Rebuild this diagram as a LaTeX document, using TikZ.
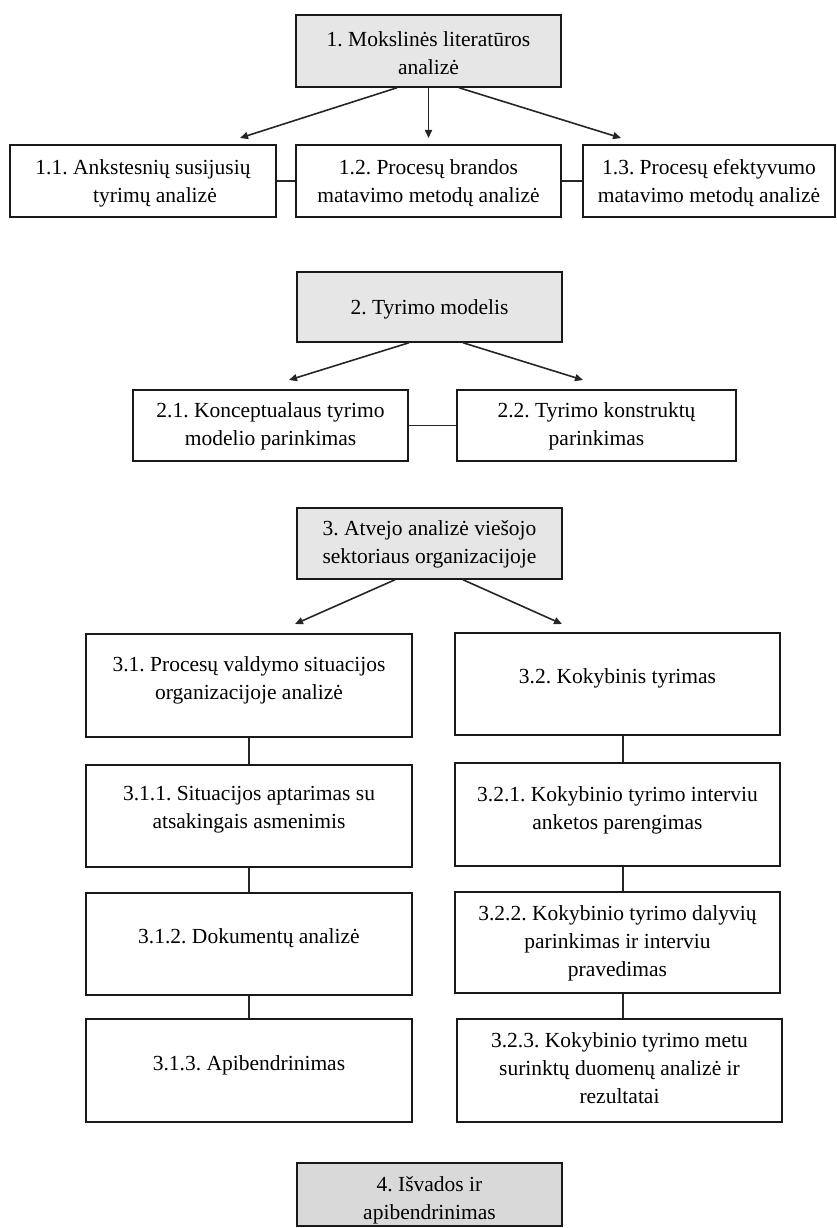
\documentclass[tikz,border=0pt]{standalone}
\usepackage{fontspec}
\setmainfont{Liberation Serif}
\frenchspacing
\usetikzlibrary{arrows.meta,calc}
\definecolor{boxgray}{HTML}{E6E6E6}
\definecolor{boxgrayb}{HTML}{D9D9D9}
\tikzset{
  box/.style={draw=black!90, line width=1.5pt, rectangle, inner sep=0pt},
  txt/.style={align=center, font=\fontsize{21.5}{28}\selectfont, inner sep=0pt, text=black},
  arr/.style={-{Triangle[length=8pt,width=7pt]}, line width=1.6pt, draw=black!85},
  lnk/.style={line width=1.6pt, draw=black!85}
}
\begin{document}
\begin{tikzpicture}[x=1pt,y=-1pt]
\useasboundingbox (0,0) rectangle (836,1228);
% level 1
\node[box, fill=boxgray, minimum width=265pt, minimum height=72pt] (b1) at (428.5,51) {};
\node[txt] (t1) at (428.5,53) {1. Mokslinės literatūros\\analizė};
\node[box, minimum width=266pt, minimum height=72pt] (b11) at (143,181) {};
\node[txt] (t11) at (143,183) {1.1. Ankstesnių susijusių\\\hspace*{24pt}tyrimų analizė};
\node[box, minimum width=265pt, minimum height=72pt] (b12) at (428.5,181) {};
\node[txt] (t12) at (428.5,183) {1.2. Procesų brandos\\matavimo metodų analizė};
\node[box, minimum width=252pt, minimum height=72pt] (b13) at (709,181) {};
\node[txt] (t13) at (709,183) {1.3. Procesų efektyvumo\\matavimo metodų analizė};
\coordinate (a11) at (240,138);
\coordinate (a12) at (428.5,138);
\coordinate (a13) at (621,138);
\draw[arr] ([xshift=-31.5pt]b1.south) -- (a11);
\draw[arr] (b1.south) -- (a12);
\draw[arr] ([xshift=30.5pt]b1.south) -- (a13);
\draw[lnk] (b11.east) -- (b12.west);
\draw[lnk] (b12.east) -- (b13.west);
% level 2
\node[box, fill=boxgray, minimum width=265pt, minimum height=70pt] (b2) at (429.5,307) {};
\node[txt] (t2) at (429.5,309) {2. Tyrimo modelis};
\node[box, minimum width=275pt, minimum height=71pt] (b21) at (270.5,425.5) {};
\node[txt] (t21) at (270.5,426) {2.1. Konceptualaus tyrimo\\modelio parinkimas};
\node[box, minimum width=279pt, minimum height=71pt] (b22) at (596.5,425.5) {};
\node[txt] (t22) at (596.5,426) {2.2. Tyrimo konstruktų\\parinkimas};
\coordinate (a21) at (289,380);
\coordinate (a22) at (583,380);
\draw[arr] ([xshift=-20.5pt]b2.south) -- (a21);
\draw[arr] ([xshift=33.5pt]b2.south) -- (a22);
\draw[lnk] (b21.east) -- (b22.west);
% level 3
\node[box, fill=boxgray, minimum width=265pt, minimum height=71pt] (b3) at (429.5,543.5) {};
\node[txt] (t3) at (429.5,544) {3. Atvejo analizė viešojo\\sektoriaus organizacijoje};
\coordinate (a31) at (295,624);
\coordinate (a32) at (562,624);
\draw[arr] ([xshift=-34.5pt]b3.south) -- (a31);
\draw[arr] ([xshift=33.5pt]b3.south) -- (a32);
% left column
\node[box, minimum width=326pt, minimum height=103pt] (b31) at (249,685.5) {};
\node[txt] (t31) at (249,680) {3.1. Procesų valdymo situacijos\\organizacijoje analizė};
\node[box, minimum width=326pt, minimum height=102pt] (b311) at (249,816) {};
\node[txt] (t311) at (249,810) {3.1.1. Situacijos aptarimas su\\atsakingais asmenimis};
\node[box, minimum width=326pt, minimum height=102pt] (b312) at (249,944) {};
\node[txt] (t312) at (249,938) {3.1.2. Dokumentų analizė};
\node[box, minimum width=326pt, minimum height=103pt] (b313) at (249,1070.5) {};
\node[txt] (t313) at (249,1065) {3.1.3. Apibendrinimas};
\draw[lnk] (b31.south) -- (b311.north);
\draw[lnk] (b311.south) -- (b312.north);
\draw[lnk] (b312.south) -- (b313.north);
% right column
\node[box, minimum width=325pt, minimum height=102pt] (b32) at (617.5,684) {};
\node[txt] (t32) at (617.5,678) {3.2. Kokybinis tyrimas};
\node[box, minimum width=325pt, minimum height=103pt] (b321) at (617.5,814.5) {};
\node[txt] (t321) at (617.5,810) {3.2.1. Kokybinio tyrimo interviu\\anketos parengimas};
\node[box, minimum width=325pt, minimum height=101pt] (b322) at (617.5,942.5) {};
\node[txt] (t322) at (617.5,943) {3.2.2. Kokybinio tyrimo dalyvių\\parinkimas ir interviu\\pravedimas};
\node[box, minimum width=325pt, minimum height=103pt] (b323) at (619.5,1070.5) {};
\node[txt] (t323) at (619.5,1068) {3.2.3. Kokybinio tyrimo metu\\surinktų duomenų analizė ir\\rezultatai};
\draw[lnk] ([xshift=5.5pt]b32.south) -- ([xshift=5.5pt]b321.north);
\draw[lnk] ([xshift=5.5pt]b321.south) -- ([xshift=5.5pt]b322.north);
\draw[lnk] ([xshift=5.5pt]b322.south) -- ([xshift=3.5pt]b323.north);
% level 4
\node[box, fill=boxgrayb, minimum width=265pt, minimum height=63pt] (b4) at (429.5,1194.5) {};
\node[txt] (t4) at (429.5,1200) {4. Išvados ir\\apibendrinimas};
\end{tikzpicture}
\end{document}
